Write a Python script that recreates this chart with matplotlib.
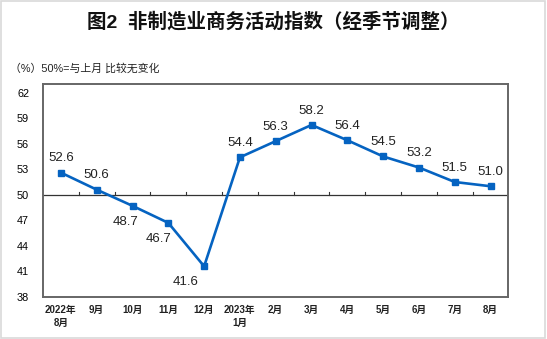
import matplotlib.pyplot as plt
from matplotlib.patches import Rectangle

plt.rcParams['font.family'] = ['Liberation Sans', 'Noto Sans CJK SC', 'DejaVu Sans']

months = ['2022年\n8月', '9月', '10月', '11月', '12月', '2023年\n1月', '2月',
          '3月', '4月', '5月', '6月', '7月', '8月']
index_values = [52.6, 50.6, 48.7, 46.7, 41.6, 54.4, 56.3, 58.2, 56.4, 54.5, 53.2, 51.5, 51.0]
y_ticks = [38, 41, 44, 47, 50, 53, 56, 59, 62]

# labels that sit under their point, with a small sideways nudge (points)
below_nudge = {2: -5, 3: -7, 4: -13}

fig = plt.figure(figsize=(5.47, 3.39), dpi=100)
ax = fig.add_axes([0.0786, 0.124, 0.851, 0.628])

x = list(range(len(index_values)))
ax.plot(x, index_values, color='#0563C1', lw=1.9, marker='s', ms=5, zorder=3)

for i, v in enumerate(index_values):
    if i in below_nudge:
        ax.annotate(f'{v:.1f}', (i, v), xytext=(below_nudge[i], -7), textcoords='offset points',
                    ha='center', va='top', fontsize=9.5, color='#222222')
    else:
        ax.annotate(f'{v:.1f}', (i, v), xytext=(0, 6), textcoords='offset points',
                    ha='center', va='bottom', fontsize=9.5, color='#222222')

# 50 line acts as the category axis, with small ticks between months
ax.axhline(50, color='#333333', lw=0.9, zorder=2)
for b in range(1, len(index_values)):
    ax.plot([b - 0.5, b - 0.5], [50, 50.35], color='#333333', lw=0.8, zorder=2)

ax.set_xlim(-0.5, len(index_values) - 0.5)
ax.set_ylim(38, 63)
ax.set_yticks(y_ticks)
ax.set_yticklabels([str(t) for t in y_ticks], fontsize=7.8)
ax.tick_params(axis='y', length=0, pad=10)
ax.set_xticks([])

for s in ax.spines.values():
    s.set_color('#666666')
    s.set_linewidth(1.4)

# month labels under the plot
for i, m in enumerate(months):
    ax.text(i, 37.1, m, ha='center', va='top', fontsize=7, color='#222222',
            fontweight='bold', linespacing=1.45)

fig.text(0.5, 0.935, '图2  非制造业商务活动指数（经季节调整）', ha='center', va='center',
         fontsize=14, fontweight='bold', color='#111111')
fig.text(0.018, 0.797, '（%）50%=与上月 比较无变化', ha='left', va='center',
         fontsize=7.8, color='#222222')

fig.patches.append(Rectangle((0.002, 0.003), 0.995, 0.994, transform=fig.transFigure,
                             fill=False, edgecolor='#d9d9d9', lw=1.2))

fig.savefig('out.png', dpi=100)
